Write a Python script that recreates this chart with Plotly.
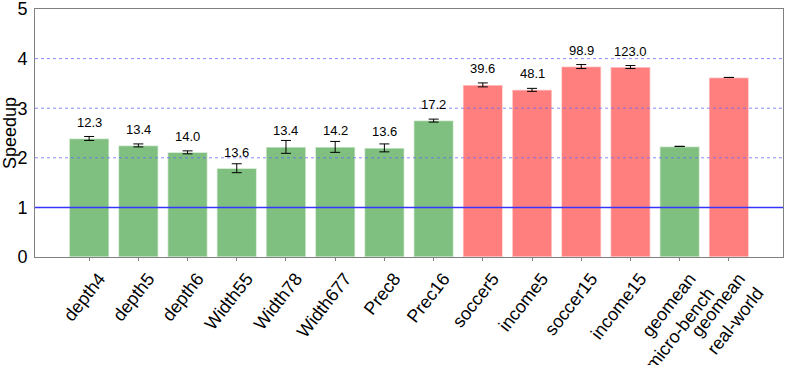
import plotly.graph_objects as go

categories = ["depth4", "depth5", "depth6", "Width55", "Width78", "Width677", "Prec8", "Prec16",
              "soccer5", "income5", "soccer15", "income15",
              "geomean<br>micro-bench", "geomean<br>real-world"]
speedup = [2.39, 2.25, 2.11, 1.79, 2.22, 2.22, 2.20, 2.75, 3.47, 3.37, 3.84, 3.83, 2.23, 3.62]
errors = [0.04, 0.03, 0.03, 0.09, 0.13, 0.11, 0.08, 0.03, 0.04, 0.03, 0.04, 0.03, 0.0, 0.0]
groups = ["micro"] * 8 + ["real"] * 4 + ["micro", "real"]
labels = ["12.3", "13.4", "14.0", "13.6", "13.4", "14.2", "13.6", "17.2",
          "39.6", "48.1", "98.9", "123.0", "", ""]

GREEN = "#7fbf7f"
RED = "#ff7f7f"
colors = [GREEN if g == "micro" else RED for g in groups]
x = list(range(len(categories)))

fig = go.Figure()
fig.add_trace(go.Bar(
    x=x, y=speedup, width=0.81,
    marker=dict(color=colors, line=dict(color="rgba(255,255,255,0.6)", width=1.5)),
    error_y=dict(type="data", array=errors, visible=True, color="black", thickness=1, width=5),
    showlegend=False,
))

for xi, v, lab in zip(x, speedup, labels):
    if lab:
        fig.add_annotation(x=xi, y=v, text=lab, showarrow=False, yshift=16, yanchor="middle",
                           font=dict(size=13, color="black", family="Liberation Sans, Arial, sans-serif"))

for g in [2, 3, 4]:
    fig.add_shape(type="line", xref="paper", x0=0, x1=1, yref="y", y0=g, y1=g,
                  line=dict(color="rgba(100,100,255,0.75)", width=1, dash="dot"))
fig.add_shape(type="line", xref="paper", x0=0, x1=1, yref="y", y0=1, y1=1,
              line=dict(color="#3535ff", width=1.5))

fig.update_layout(
    width=789, height=365,
    margin=dict(l=35, r=6, t=9, b=108),
    paper_bgcolor="white", plot_bgcolor="white",
    font=dict(family="Liberation Sans, Arial, sans-serif", color="black"),
)
fig.update_xaxes(
    tickmode="array", tickvals=x, ticktext=categories, tickangle=-52,
    range=[-1.1, 14.1], showgrid=False, zeroline=False, automargin=False,
    ticks="outside", ticklen=3, tickcolor="#808080",
    showline=True, linecolor="#808080", mirror=True,
    tickfont=dict(size=18), ticklabeloverflow="allow", ticklabelshift=10,
)
fig.update_yaxes(
    range=[0, 5.0001], tickvals=[0, 1, 2, 3, 4, 5], showgrid=False, zeroline=False, automargin=False,
    ticks="", ticklabelstandoff=3, ticklabeloverflow="allow",
    showline=True, linecolor="#808080", mirror=True,
    tickfont=dict(size=18),
    title=dict(text="Speedup", font=dict(size=18), standoff=2),
)

fig.write_html("out.html", post_script="document.body.style.margin='0';",
               config={"displayModeBar": False})
